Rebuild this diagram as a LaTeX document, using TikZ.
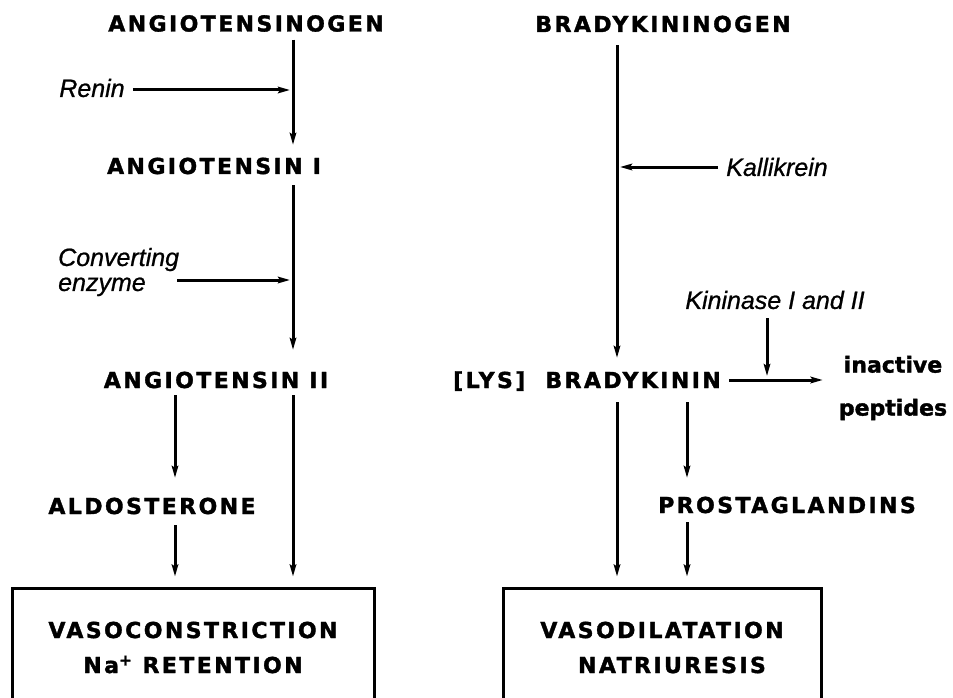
\documentclass[tikz,border=0pt]{standalone}
\usepackage{fontspec}
\usetikzlibrary{arrows.meta}
\newfontfamily\capfont[LetterSpace=11, BoldFeatures={FakeBold=1.6}]{DejaVu Sans}
\newfontfamily\plainbold[BoldFeatures={FakeBold=1.6}]{DejaVu Sans}
\newfontfamily\labfont[ItalicFeatures={FakeBold=0.8}]{Liberation Sans}
\tikzset{
 caps/.style={font=\capfont\bfseries\fontsize{22}{35}\selectfont, inner sep=0pt, text height=16pt, text depth=0pt},
 enz/.style={font=\labfont\itshape\fontsize{25}{25}\selectfont, inner sep=0pt},
 arr/.style={line width=3pt, -{Stealth[length=12pt,width=6.5pt,inset=2pt]}},
 box/.style={draw, line width=3pt, inner sep=0pt, align=center, font=\capfont\bfseries\fontsize{22}{35}\selectfont},
}
\begin{document}
\begin{tikzpicture}[x=1pt,y=-1pt]
\clip (0,0) rectangle (953,698);
\fill[white] (0,0) rectangle (953,698);
% coordinates of vertical lines
\coordinate (xA) at (293,0);
\coordinate (xB) at (175,0);
\coordinate (xC) at (617,0);
\coordinate (xD) at (687,0);
\coordinate (xK) at (767,0);
% nodes
\node[caps] (agen) at (246,23.5) {ANGIOTENSINOGEN};
\node[caps] (a1) at (214,166) {ANGIOTENSIN I};
\node[caps] (a2) at (216,380) {ANGIOTENSIN II};
\node[caps] (ald) at (152,506) {ALDOSTERONE};
\node[caps] (bgen) at (663,24) {BRADYKININOGEN};
\node[caps] (bk) at (587,380) {[LYS]\hspace{10pt} BRADYKININ};
\node[caps] (pg) at (787,505) {PROSTAGLANDINS};
\node[enz] (renin) at (92,88) {Renin};
\node[enz, anchor=west, align=left] (conv) at (58,272) {Converting\\enzyme};
\node[enz] (kal) at (777,167) {Kallikrein};
\node[enz] (kin) at (775,300) {Kininase I and II};
\node[font=\plainbold\bfseries\fontsize{22}{43}\selectfont, align=center, inner sep=0pt] (inact) at (893,388) {inactive\\peptides};
\node[box, minimum width=362pt, minimum height=119pt] (vc) at (193,647.5) {VASOCONSTRICTION\\Na\textsuperscript{+} RETENTION};
\node[box, minimum width=318pt, minimum height=119pt] (vd) at (662,647.5) {VASODILATATION\\\hspace*{20pt}NATRIURESIS};
% connectors
\draw[arr, shorten <=8pt, shorten >=13pt] (agen.south -| xA) -- (a1.north -| xA);
\draw[arr, shorten <=11pt, shorten >=22pt] (a1.south -| xA) -- (a2.north -| xA);
\draw[arr, shorten <=7pt, shorten >=20pt] (a2.south -| xB) -- (ald.north -| xB);
\draw[arr, shorten <=7pt, shorten >=10pt] (a2.south -| xA) -- (vc.north -| xA);
\draw[arr, shorten <=11pt, shorten >=10pt] (ald.south -| xB) -- (vc.north -| xB);
\draw[arr, shorten <=13pt, shorten >=14pt] (bgen.south -| xC) -- (bk.north -| xC);
\draw[arr, shorten <=14pt, shorten >=10pt] (bk.south -| xC) -- (vd.north -| xC);
\draw[arr, shorten <=14pt, shorten >=19pt] (bk.south -| xD) -- (pg.north -| xD);
\draw[arr, shorten <=9pt, shorten >=10pt] (pg.south -| xD) -- (vd.north -| xD);
% enzyme arrows
\coordinate (reninA) at ([yshift=-2pt]renin.east);
\draw[arr, shorten <=8pt, shorten >=3pt] (reninA) -- (reninA -| xA);
\coordinate (convA) at ([xshift=-2pt,yshift=-8pt]conv.east);
\draw[arr, shorten >=3pt] (convA) -- (convA -| xA);
\draw[arr, shorten <=8pt, shorten >=3pt] (kal.west) -- (kal.west -| xC);
\draw[arr, shorten <=9pt, shorten >=4pt] (kin.south -| xK) -- (bk.east -| xK);
\draw[arr, shorten <=8pt, shorten >=16pt] (bk.east) -- (bk.east -| inact.west);
\end{tikzpicture}
\end{document}
